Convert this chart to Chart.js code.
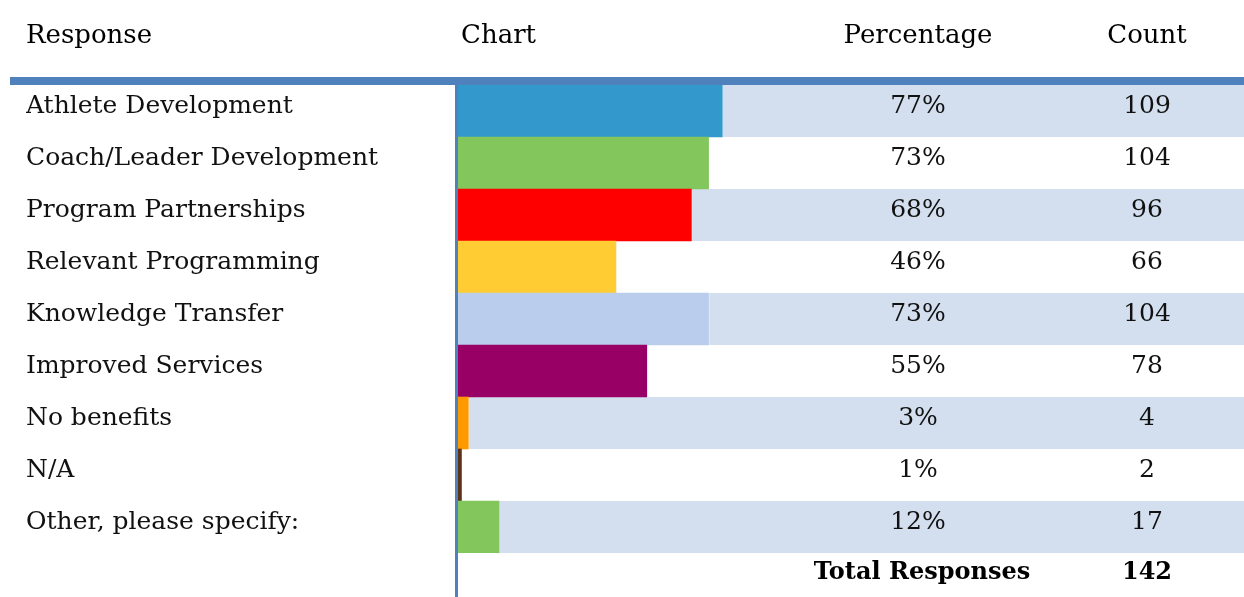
<!DOCTYPE html>
<html>
<head>
<meta charset="utf-8">
<script src="https://cdn.jsdelivr.net/npm/chart.js@4/dist/chart.umd.min.js"></script>
<style>
  html, body { margin: 0; padding: 0; background: #fff; }
  #wrap { position: relative; width: 1244px; height: 597px; }
</style>
</head>
<body>
<div id="wrap"><canvas id="myChart"></canvas></div>
<script>
// survey answers, one row each
var responses = [
  'Athlete Development',
  'Coach/Leader Development',
  'Program Partnerships',
  'Relevant Programming',
  'Knowledge Transfer',
  'Improved Services',
  'No benefits',
  'N/A',
  'Other, please specify:'
];
var percentages = [77, 73, 68, 46, 73, 55, 3, 1, 12];
var counts = [109, 104, 96, 66, 104, 78, 4, 2, 17];
var barColors = ['#3399CC', '#82C65C', '#FF0000', '#FFCC33', '#BBCDEC', '#990066', '#FF9900', '#5C3317', '#82C65C'];
var headers = ['Response', 'Chart', 'Percentage', 'Count'];
var totalLabel = 'Total Responses';
var totalResponses = 142;

var fontFamily = '"DejaVu Serif", serif';
var lineBlue = '#4F81BD';
var bandColor = '#D3DFEE';
var xMax = 229; // scale runs past 100% so the striped rows reach the right edge

// shaded stripe on every other row, filling what the bar leaves over
var bandData = percentages.map(function (p, i) {
  return i % 2 === 0 ? xMax - p : 0;
});

var pctX = 918;
var countX = 1147;

var tablePlugin = {
  id: 'tableText',
  afterDraw: function (chart) {
    var ctx = chart.ctx;
    var area = chart.chartArea;
    var y = chart.scales.y;
    ctx.save();

    // header row
    ctx.fillStyle = '#000';
    ctx.font = '26px ' + fontFamily;
    ctx.textBaseline = 'alphabetic';
    ctx.textAlign = 'left';
    ctx.fillText(headers[0], 26, 43);
    ctx.fillText(headers[1], 461, 43);
    ctx.textAlign = 'center';
    ctx.fillText(headers[2], pctX, 43);
    ctx.fillText(headers[3], countX, 43);

    // rule under the header
    ctx.fillStyle = lineBlue;
    ctx.fillRect(10, 77, chart.width - 10, 8);
    // left edge of the chart column
    ctx.fillRect(area.left - 3, 84, 3, chart.height - 84);

    // percentage and count columns
    ctx.fillStyle = '#111';
    ctx.font = '25px ' + fontFamily;
    for (var i = 0; i < responses.length; i++) {
      var yc = y.getPixelForValue(i) + 2;
      ctx.fillText(percentages[i] + '%', pctX, yc);
      ctx.fillText(String(counts[i]), countX, yc);
    }

    // total row
    ctx.fillStyle = '#000';
    ctx.font = 'bold 24px ' + fontFamily;
    ctx.fillText(totalLabel, pctX + 4, 579);
    ctx.fillText(String(totalResponses), countX, 579);
    ctx.restore();
  }
};

const myChart = new Chart(document.getElementById('myChart'), {
  type: 'bar',
  data: {
    labels: responses,
    datasets: [{
      label: 'Percentage',
      data: percentages,
      backgroundColor: barColors,
      borderWidth: 0,
      barPercentage: 1,
      categoryPercentage: 1
    }, {
      label: 'band',
      data: bandData,
      backgroundColor: bandColor,
      borderColor: '#FFFFFF',
      borderWidth: { left: 1, right: 0, top: 0, bottom: 0 },
      borderSkipped: false,
      barPercentage: 1,
      categoryPercentage: 1
    }]
  },
  plugins: [tablePlugin],
  options: {
    indexAxis: 'y',
    responsive: true,
    maintainAspectRatio: false,
    animation: false,
    layout: {
      padding: { top: 85, bottom: 44, left: 26, right: 0 }
    },
    scales: {
      x: {
        display: false,
        stacked: true,
        min: 0,
        max: xMax
      },
      y: {
        stacked: true,
        grid: { display: false, drawTicks: false },
        border: { display: false },
        afterFit: function (scale) { scale.width = 432; },
        ticks: {
          crossAlign: 'far',
          color: '#111',
          padding: 0,
          labelOffset: -5,
          font: { family: fontFamily, size: 25 }
        }
      }
    },
    plugins: {
      legend: { display: false },
      tooltip: { enabled: false }
    }
  }
});
</script>
</body>
</html>
